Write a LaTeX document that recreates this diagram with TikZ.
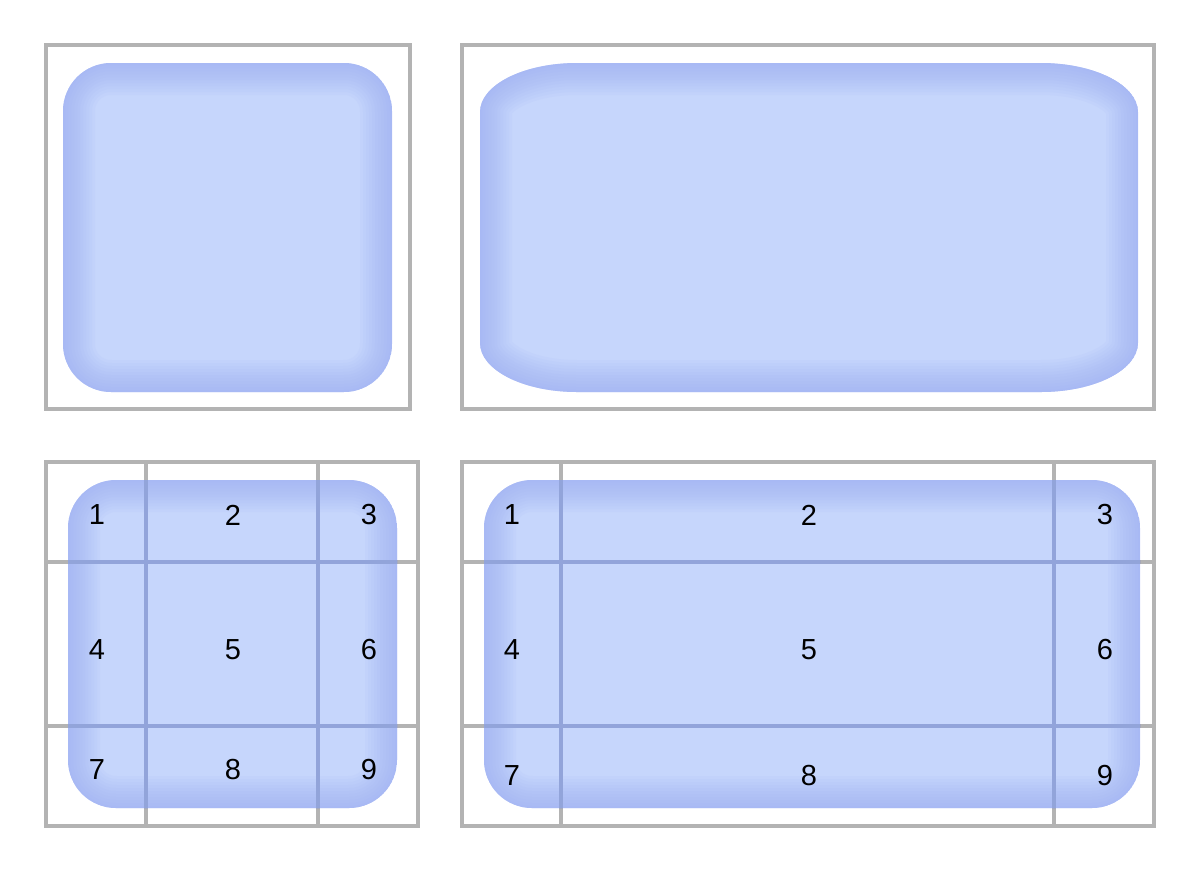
\documentclass[tikz,border=0pt]{standalone}
\usepackage{fontspec}
\setmainfont{Liberation Sans}
\usetikzlibrary{calc}
\definecolor{frameGray}{RGB}{179,179,179}
\definecolor{tileBlue}{RGB}{198,214,252}
\definecolor{edgeBlue}{RGB}{150,168,244}
\definecolor{seamBlue}{RGB}{146,164,218}

% blue tile with soft darker rim
\newcommand{\tile}[1]{%
  \begin{scope}
    \clip #1;
    \fill[tileBlue] #1;
    \foreach \w in {32,29,...,2}
      \draw[edgeBlue, line width=\w pt, opacity=0.07] #1;
  \end{scope}}

\begin{document}
\begin{tikzpicture}[x=0.5pt, y=-0.5pt, outer sep=0pt,
  frame/.style={draw=frameGray, line width=1.7pt},
  seam/.style={draw=seamBlue, line width=1.7pt},
  num/.style={font=\fontsize{14.5}{16}\selectfont, inner sep=0pt}]

\useasboundingbox (0,0) rectangle (1200,880);

% top row: unsliced scaling
\draw[frame] (46,45) rectangle (410,409);
\tile{[rounded corners=24pt] (63,63) rectangle (392,392)}

\draw[frame] (462,45) rectangle (1154,409);
\tile{(480,112) arc[start angle=180, end angle=270, x radius=97, y radius=49]
  -- (1041,63) arc[start angle=270, end angle=360, x radius=97, y radius=49]
  -- (1138,343) arc[start angle=0, end angle=90, x radius=97, y radius=49]
  -- (577,392) arc[start angle=90, end angle=180, x radius=97, y radius=49]
  -- cycle}

% bottom left: 9 slices
\draw[frame] (46,462) rectangle (418,826);
\draw[frame] (146,462) -- (146,826) (318,462) -- (318,826)
  (46,562) -- (418,562) (46,726) -- (418,726);
\tile{[rounded corners=24pt] (68,480) rectangle (397,808)}
\begin{scope}
  \clip[rounded corners=24pt] (68,480) rectangle (397,808);
  \draw[seam] (146,462) -- (146,826) (318,462) -- (318,826)
    (46,562) -- (418,562) (46,726) -- (418,726);
\end{scope}

\node[num] at (97,515) (BL_1) {1};
\node[num] at (233,515) (BL_2) {2};
\node[num] at (369,515) (BL_3) {3};
\node[num] at (97,650) (BL_4) {4};
\node[num] at (233,650) (BL_5) {5};
\node[num] at (369,650) (BL_6) {6};
\node[num] at (97,770) (BL_7) {7};
\node[num] at (233,770) (BL_8) {8};
\node[num] at (369,770) (BL_9) {9};

% bottom right: 9 slices stretched
\draw[frame] (462,462) rectangle (1154,826);
\draw[frame] (561,462) -- (561,826) (1054,462) -- (1054,826)
  (462,562) -- (1154,562) (462,726) -- (1154,726);
\tile{[rounded corners=24pt] (484,480) rectangle (1140,808)}
\begin{scope}
  \clip[rounded corners=24pt] (484,480) rectangle (1140,808);
  \draw[seam] (561,462) -- (561,826) (1054,462) -- (1054,826)
    (462,562) -- (1154,562) (462,726) -- (1154,726);
\end{scope}

\node[num] at (512,515) (BR_1) {1};
\node[num] at (809,515) (BR_2) {2};
\node[num] at (1105,515) (BR_3) {3};
\node[num] at (512,650) (BR_4) {4};
\node[num] at (809,650) (BR_5) {5};
\node[num] at (1105,650) (BR_6) {6};
\node[num] at (512,776) (BR_7) {7};
\node[num] at (809,776) (BR_8) {8};
\node[num] at (1105,776) (BR_9) {9};
\end{tikzpicture}
\end{document}
